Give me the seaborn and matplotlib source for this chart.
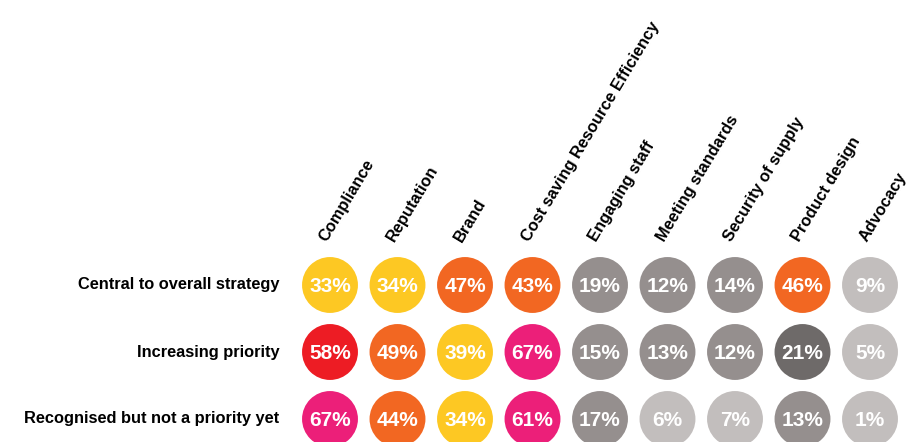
import matplotlib
matplotlib.use("Agg")
import matplotlib.pyplot as plt
import seaborn as sns
import pandas as pd

columns = ['Compliance', 'Reputation', 'Brand', 'Cost saving Resource Efficiency',
           'Engaging staff', 'Meeting standards', 'Security of supply',
           'Product design', 'Advocacy']
rows = ['Central to overall strategy', 'Increasing priority',
        'Recognised but not a priority yet']
central = [33, 34, 47, 43, 19, 12, 14, 46, 9]
increasing = [58, 49, 39, 67, 15, 13, 12, 21, 5]
recognised = [67, 44, 34, 61, 17, 6, 7, 13, 1]

# colour bands by value (every 10%)
band_colors = ['#c2bebd', '#958f8e', '#6e6a69', '#fdc823', '#f26722', '#ed1c24', '#ec1f79']


def band(v):
    return min(v // 10, 6)


records = []
for j, (name, vals) in enumerate(zip(rows, [central, increasing, recognised])):
    for i, v in enumerate(vals):
        records.append({'col': i, 'row': j, 'value': v, 'band': band(v)})
df = pd.DataFrame(records)

sns.set_style('white')
plt.rcParams['font.family'] = ['Liberation Sans', 'DejaVu Sans']

fig = plt.figure(figsize=(9.08, 4.42), dpi=100)
ax = fig.add_axes([0, 0, 1, 1])

palette = {k: c for k, c in enumerate(band_colors)}
sns.scatterplot(data=df, x='col', y='row', hue='band', palette=palette,
                s=1620, linewidth=0, legend=False, ax=ax)

# map data units onto the pixel layout
x0, dx = 330, 67.5
y0, dy = 285, 67
ax.set_xlim(-x0 / dx, (908 - x0) / dx)
ax.set_ylim((442 - y0) / dy, -y0 / dy)
ax.axis('off')

for _, r in df.iterrows():
    ax.text(r['col'], r['row'] + 0.02, f"{r['value']}%", ha='center', va='center',
            color='white', fontsize=15, fontweight='bold')

for j, name in enumerate(rows):
    ax.text(-0.75, j, name, ha='right', va='center', fontsize=11.8,
            fontweight='bold', color='black')

for i, name in enumerate(columns):
    ax.text(i - 0.05, -0.63, name, ha='left', va='baseline', rotation=59,
            rotation_mode='anchor', fontsize=11.8, fontweight='bold', color='black')

fig.savefig('out.png', dpi=100)
